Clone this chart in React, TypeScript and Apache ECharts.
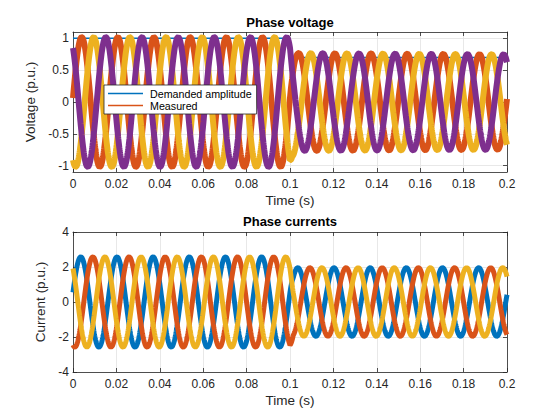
import React, { useEffect, useRef } from 'react';
import * as echarts from 'echarts';

// ---- values ----
const timeRange = [0, 0.2];
const sampleCount = 1601;
const frequencyHz = 60;
const xTicks = [0, 0.02, 0.04, 0.06, 0.08, 0.1, 0.12, 0.14, 0.16, 0.18, 0.2];
const voltageTicks = [-1, -0.5, 0, 0.5, 1];
const voltageAxisRange = [-1.1, 1.1];
const currentTicks = [-4, -2, 0, 2, 4];
const currentAxisRange = [-4, 4];

// demanded amplitude (step at 0.1 s)
const demandedTimes = [0, 0.1, 0.1, 0.2];
const demandedValues = [1, 1, 0.7, 0.7];

// envelope (peak amplitude) of the measured phase voltages
const voltageEnvelopeTimes = [0, 0.1, 0.101, 0.1035, 0.2];
const voltageEnvelopeValues = [1.02, 1.02, 0.86, 0.77, 0.75];
const voltageFirstPeakTime = 0.004; // first crest of phase a (orange)

// envelope of the phase currents
const currentEnvelopeTimes = [0, 0.1, 0.1015, 0.2];
const currentEnvelopeValues = [2.58, 2.58, 1.96, 1.96];
const currentFirstPeakTime = 0.0036; // first crest of phase a (blue)

const phaseLagDeg = [0, 120, 240];
const voltageNames = ['Measured', 'Measured b', 'Measured c'];
const currentNames = ['Current a', 'Current b', 'Current c'];
const voltageColors = ['#D95319', '#EDB120', '#7E2F8E'];
const currentColors = ['#0072BD', '#D95319', '#EDB120'];
const demandedColor = '#0072BD';

const axisColor = '#262626';
const gridColor = '#e2e2e2';
const fontFamily = '"Liberation Sans", Arial, sans-serif';
const tickFont = 12;
const nameFont = 13.5;
const titleFont = 13;

function envelopeAt(t: number, times: number[], values: number[]) {
  if (t <= times[0]) return values[0];
  for (let i = 1; i < times.length; i++) {
    if (t <= times[i]) {
      const span = times[i] - times[i - 1];
      if (span <= 0) return values[i];
      const r = (t - times[i - 1]) / span;
      return values[i - 1] + r * (values[i] - values[i - 1]);
    }
  }
  return values[values.length - 1];
}

function phaseWave(
  lagDeg: number,
  firstPeak: number,
  envT: number[],
  envV: number[]
): [number, number][] {
  const out: [number, number][] = [];
  const dt = (timeRange[1] - timeRange[0]) / (sampleCount - 1);
  const lag = (lagDeg * Math.PI) / 180;
  for (let i = 0; i < sampleCount; i++) {
    const t = timeRange[0] + i * dt;
    const a = envelopeAt(t, envT, envV);
    out.push([t, a * Math.cos(2 * Math.PI * frequencyHz * (t - firstPeak) - lag)]);
  }
  return out;
}

const fmt = (v: number) => String(Math.round(v * 1000) / 1000);

function xAxes(gridIndex: number) {
  const common = {
    type: 'value',
    gridIndex,
    min: timeRange[0],
    max: timeRange[1],
    interval: xTicks[1] - xTicks[0],
    axisLine: { show: true, onZero: false, lineStyle: { color: axisColor, width: 0.8 } },
    axisTick: { show: true, inside: true, length: 4, lineStyle: { color: axisColor, width: 0.8 } },
  };
  return [
    {
      ...common,
      position: 'bottom',
      axisLabel: { margin: 6, color: axisColor, fontSize: tickFont, fontFamily, formatter: fmt },
      splitLine: { show: true, lineStyle: { color: gridColor, width: 0.8 } },
      name: 'Time (s)',
      nameLocation: 'middle',
      nameGap: 21,
      nameTextStyle: { color: axisColor, fontSize: nameFont, fontFamily },
    },
    {
      ...common,
      position: 'top',
      axisLabel: { show: false },
      splitLine: { show: false },
    },
  ];
}

function yAxes(
  gridIndex: number,
  range: number[],
  ticks: number[],
  name: string,
  nameGap: number
) {
  const common = {
    type: 'value',
    gridIndex,
    min: range[0],
    max: range[1],
    axisLine: { show: true, onZero: false, lineStyle: { color: axisColor, width: 0.8 } },
    axisTick: {
      show: true,
      inside: true,
      length: 4,
      customValues: ticks,
      lineStyle: { color: axisColor, width: 0.8 },
    },
  };
  return [
    {
      ...common,
      position: 'left',
      axisLabel: { margin: 4, color: axisColor, fontSize: tickFont, fontFamily, customValues: ticks, formatter: fmt },
      splitLine: { show: true, lineStyle: { color: gridColor, width: 0.8 } },
      name,
      nameLocation: 'middle',
      nameGap,
      nameTextStyle: { color: axisColor, fontSize: nameFont, fontFamily },
    },
    {
      ...common,
      position: 'right',
      axisLabel: { show: false },
      splitLine: { show: false },
    },
  ];
}

export default function App() {
  const ref = useRef<HTMLDivElement>(null);

  useEffect(() => {
    if (!ref.current) return;
    const chart = echarts.init(ref.current, undefined, { renderer: 'svg' });

    const demandedData = demandedTimes.map((t, i) => [t, demandedValues[i]]);

    const voltageSeries = phaseLagDeg.map((lag, k) => ({
      type: 'line',
      name: voltageNames[k],
      xAxisIndex: 0,
      yAxisIndex: 0,
      data: phaseWave(lag, voltageFirstPeakTime, voltageEnvelopeTimes, voltageEnvelopeValues),
      showSymbol: false,
      symbol: 'none',
      color: voltageColors[k],
      lineStyle: { color: voltageColors[k], width: 6 },
      z: 2,
    }));

    const currentSeries = phaseLagDeg.map((lag, k) => ({
      type: 'line',
      name: currentNames[k],
      xAxisIndex: 2,
      yAxisIndex: 2,
      data: phaseWave(lag, currentFirstPeakTime, currentEnvelopeTimes, currentEnvelopeValues),
      showSymbol: false,
      symbol: 'none',
      color: currentColors[k],
      lineStyle: { color: currentColors[k], width: 5 },
      z: 2,
    }));

    chart.setOption({
      animation: false,
      backgroundColor: '#ffffff',
      grid: [
        { left: 73, top: 32, width: 434, height: 140, containLabel: false },
        { left: 73, top: 232, width: 434, height: 140, containLabel: false },
      ],
      xAxis: [...xAxes(0), ...xAxes(1)],
      yAxis: [
        ...yAxes(0, voltageAxisRange, voltageTicks, 'Voltage (p.u.)', 26),
        ...yAxes(1, currentAxisRange, currentTicks, 'Current (p.u.)', 16),
      ],
      legend: {
        data: ['Demanded amplitude', 'Measured'],
        orient: 'vertical',
        left: 104,
        top: 85,
        z: 20,
        icon: 'rect',
        itemWidth: 35,
        itemHeight: 1.5,
        itemGap: 1,
        padding: [3, 5, 3, 4],
        backgroundColor: '#ffffff',
        borderColor: axisColor,
        borderWidth: 0.8,
        borderRadius: 0,
        selectedMode: false,
        textStyle: { color: '#000000', fontSize: 10.7, fontFamily, padding: [0, 0, 0, 2] },
      },
      graphic: [
        {
          type: 'text',
          x: 290,
          y: 22,
          style: {
            text: 'Phase voltage',
            align: 'center',
            verticalAlign: 'middle',
            fontSize: titleFont,
            fontWeight: 'bold',
            fontFamily,
            fill: '#000000',
          },
        },
        {
          type: 'text',
          x: 290,
          y: 221,
          style: {
            text: 'Phase currents',
            align: 'center',
            verticalAlign: 'middle',
            fontSize: titleFont,
            fontWeight: 'bold',
            fontFamily,
            fill: '#000000',
          },
        },
      ],
      series: [
        {
          type: 'line',
          name: 'Demanded amplitude',
          xAxisIndex: 0,
          yAxisIndex: 0,
          data: demandedData,
          showSymbol: false,
          symbol: 'none',
          color: demandedColor,
          lineStyle: { color: demandedColor, width: 1.5 },
          z: 2,
        },
        ...voltageSeries,
        ...currentSeries,
      ],
    });

    return () => chart.dispose();
  }, []);

  return (
    <div
      ref={ref}
      style={{ position: 'absolute', left: 0, top: 0, width: 560, height: 420, background: '#fff' }}
    />
  );
}
